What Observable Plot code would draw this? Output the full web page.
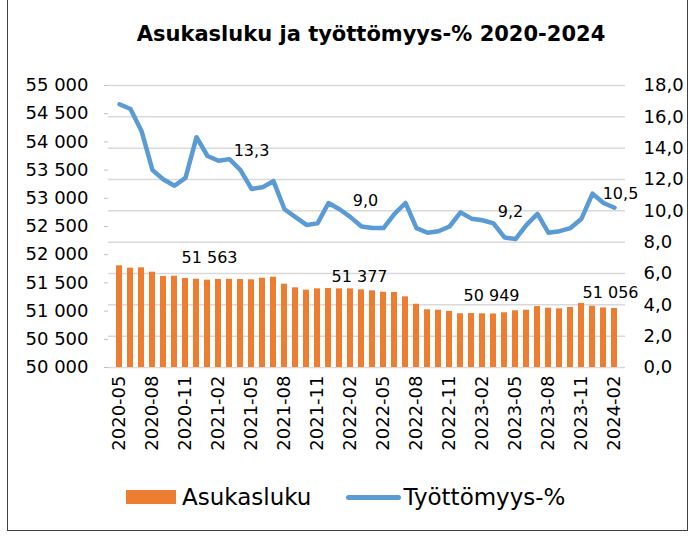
<!DOCTYPE html>
<html>
<head>
<meta charset="utf-8">
<script src="https://cdn.jsdelivr.net/npm/d3@7"></script>
<script src="https://cdn.jsdelivr.net/npm/@observablehq/plot@0.6"></script>
<style>
  html, body { margin: 0; padding: 0; background: #fff; }
  #wrap { position: relative; width: 694px; height: 536px; overflow: hidden; font-family: "DejaVu Sans", Verdana, sans-serif; color: #000; }
  #frame { position: absolute; left: 7px; top: -2px; width: 681px; height: 533px; border: 1px solid #404040; box-sizing: border-box; pointer-events: none; }
  #title { position: absolute; left: 0; width: 742px; top: 22px; text-align: center; font-weight: bold; font-size: 21px; }
  #chart { position: absolute; left: 0; top: 0; }
  #legend { position: absolute; top: 484px; left: 126px; font-size: 23px; display: flex; align-items: center; white-space: nowrap; }
  .sw-bar { display: inline-block; width: 50px; height: 14px; background: #ED7D31; margin-right: 6px; }
  .sw-line { display: inline-block; width: 55px; height: 5px; border-radius: 3px; background: #5B9BD5; margin-left: 35px; margin-right: 2px; }
</style>
</head>
<body>
<div id="wrap">
  <div id="chart"></div>
  <div id="title">Asukasluku ja työttömyys-% 2020-2024</div>
  <div id="legend"><span class="sw-bar"></span><span>Asukasluku</span><span class="sw-line"></span><span>Työttömyys-%</span></div>
  <div id="frame"></div>
</div>
<script>
const months = [
  "2020-05","2020-06","2020-07","2020-08","2020-09","2020-10","2020-11","2020-12",
  "2021-01","2021-02","2021-03","2021-04","2021-05","2021-06","2021-07","2021-08","2021-09","2021-10","2021-11","2021-12",
  "2022-01","2022-02","2022-03","2022-04","2022-05","2022-06","2022-07","2022-08","2022-09","2022-10","2022-11","2022-12",
  "2023-01","2023-02","2023-03","2023-04","2023-05","2023-06","2023-07","2023-08","2023-09","2023-10","2023-11","2023-12",
  "2024-01","2024-02"
];
const population = [
  51803, 51761, 51767, 51690, 51613, 51619, 51578, 51566, 51548, 51560,
  51563, 51560, 51555, 51584, 51601, 51477, 51413, 51371, 51395, 51400,
  51395, 51395, 51377, 51359, 51335, 51330, 51253, 51122, 51023, 51016,
  50993, 50952, 50957, 50952, 50949, 50970, 51005, 51016, 51082, 51052,
  51040, 51064, 51135, 51087, 51056, 51046
];
const unemployment = [
  16.8, 16.5, 15.1, 12.6, 12.0, 11.6, 12.1, 14.7, 13.5, 13.2,
  13.3, 12.6, 11.4, 11.5, 11.9, 10.1, 9.6, 9.1, 9.2, 10.5,
  10.1, 9.6, 9.0, 8.9, 8.9, 9.8, 10.5, 8.9, 8.6, 8.7,
  9.0, 9.9, 9.5, 9.4, 9.2, 8.3, 8.2, 9.1, 9.8, 8.6,
  8.7, 8.9, 9.5, 11.1, 10.5, 10.2
];
const xTickLabels = ["2020-05","2020-08","2020-11","2021-02","2021-05","2021-08","2021-11","2022-02",
  "2022-05","2022-08","2022-11","2023-02","2023-05","2023-08","2023-11","2024-02"];
const popTicks = [50000, 50500, 51000, 51500, 52000, 52500, 53000, 53500, 54000, 54500, 55000];
const unempTicks = [0, 2, 4, 6, 8, 10, 12, 14, 16, 18];
const labelIndex = [10, 22, 34, 44];

const popMin = 50000, popMax = 55000, unempMax = 18;
const toY = v => popMin + v / unempMax * (popMax - popMin);
const fromY = y => (y - popMin) / (popMax - popMin) * unempMax;
const fi = d3.formatLocale({decimal: ",", thousands: " ", grouping: [3], currency: ["", ""]});
const fmtPop = fi.format(",d");
const fmt1 = fi.format(".1f");

const table = months.map((m, i) => ({month: m, pop: population[i], unemp: unemployment[i]}));
const at = i => table[i];

const blue = "#5B9BD5", orange = "#ED7D31", grid = "#D9D9D9";

const chart = Plot.plot({
  width: 694,
  height: 536,
  marginTop: 85,
  marginBottom: 169,
  marginLeft: 108,
  marginRight: 69,
  style: {fontFamily: "DejaVu Sans, Verdana, sans-serif", fontSize: "18px", color: "#000", background: "transparent", overflow: "visible"},
  x: {type: "band", domain: months, paddingInner: 0.44, paddingOuter: 0.22},
  y: {domain: [popMin, popMax]},
  marks: [
    Plot.gridY(unempTicks.map(toY), {stroke: grid, strokeOpacity: 1, strokeWidth: 1.5}),
    Plot.barY(table, {x: "month", y1: popMin, y2: "pop", fill: orange}),
    Plot.lineY(table, {x: "month", y: d => toY(d.unemp), stroke: blue, strokeWidth: 4.5, strokeLinejoin: "round", strokeLinecap: "round"}),
    // bar data labels
    Plot.text([at(labelIndex[0])], {x: "month", y: "pop", text: d => fmtPop(d.pop), dx: -20, dy: -21, fontSize: 16}),
    Plot.text([at(labelIndex[1])], {x: "month", y: "pop", text: d => fmtPop(d.pop), dx: -2, dy: -13, fontSize: 16}),
    Plot.text([at(labelIndex[2])], {x: "month", y: "pop", text: d => fmtPop(d.pop), dx: -2, dy: -18, fontSize: 16}),
    Plot.text([at(labelIndex[3])], {x: "month", y: "pop", text: d => fmtPop(d.pop), dx: 7, dy: -15, fontSize: 16}),
    // line data labels
    Plot.text([at(labelIndex[0])], {x: "month", y: d => toY(d.unemp), text: d => fmt1(d.unemp), dx: 22, dy: -8, fontSize: 16}),
    Plot.text([at(labelIndex[1])], {x: "month", y: d => toY(d.unemp), text: d => fmt1(d.unemp), dx: 4, dy: -26, fontSize: 16}),
    Plot.text([at(labelIndex[2])], {x: "month", y: d => toY(d.unemp), text: d => fmt1(d.unemp), dx: 17, dy: -11, fontSize: 16}),
    Plot.text([at(labelIndex[3])], {x: "month", y: d => toY(d.unemp), text: d => fmt1(d.unemp), dx: 17, dy: -9, fontSize: 16}),
    // axes
    Plot.axisX(xTickLabels, {anchor: "bottom", tickRotate: -90, tickSize: 0, tickPadding: 8, fontSize: 18, label: null}),
    Plot.axisY(popTicks, {anchor: "left", tickSize: 4, tickFormat: () => "", stroke: "#BFBFBF", label: null}),
    Plot.axisY(popTicks, {anchor: "left", tickSize: 0, tickPadding: 20, tickFormat: fmtPop, fontSize: 18, label: null}),
    Plot.axisY(unempTicks.map(toY), {anchor: "right", tickSize: 0, tickPadding: 18, tickFormat: d => fmt1(fromY(d)), fontSize: 18, label: null})
  ]
});
document.getElementById("chart").appendChild(chart);
</script>
</body>
</html>
